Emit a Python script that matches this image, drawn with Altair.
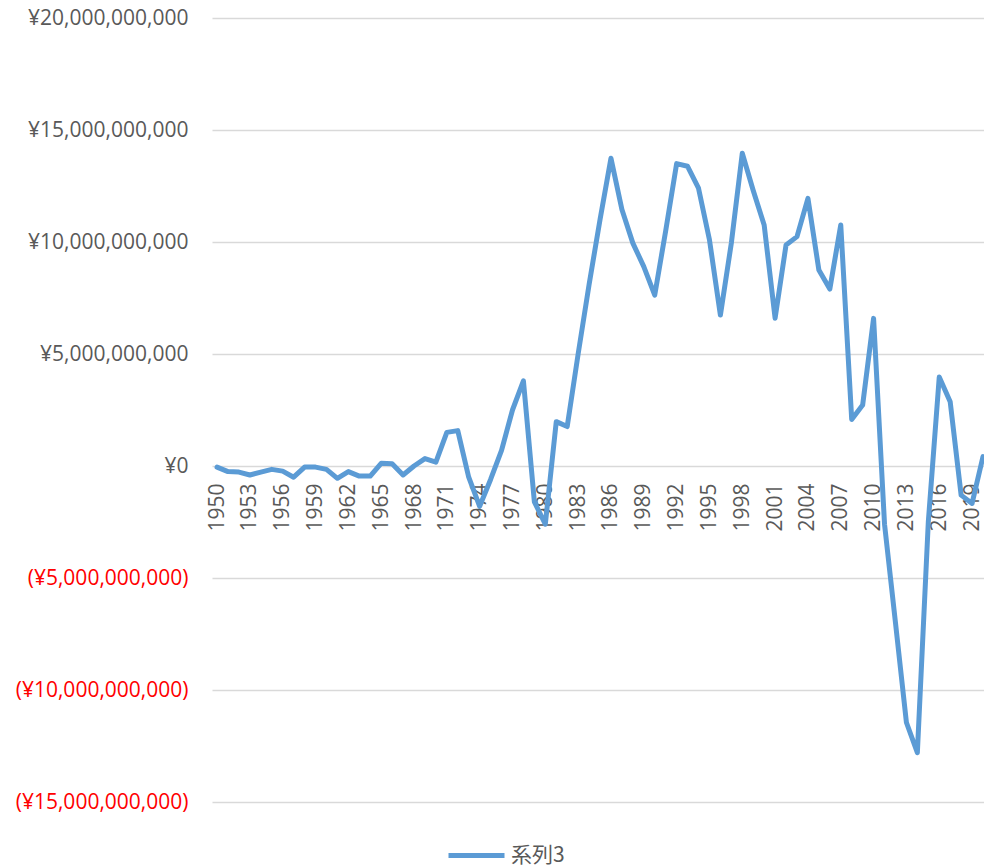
import altair as alt
import pandas as pd

# Annual balance, 1950-2020 (yen)
years = list(range(1950, 2021))
values_bn = [
    -0.05, -0.25, -0.27, -0.40, -0.27, -0.15, -0.23, -0.50, -0.05, -0.05,
    -0.15, -0.55, -0.25, -0.45, -0.45, 0.12, 0.10, -0.40, 0.00, 0.33,
    0.17, 1.50, 1.58, -0.50, -1.80, -0.60, 0.70, 2.50, 3.80, -1.60,
    -2.60, 1.98, 1.76, 5.00, 8.10, 11.00, 13.74, 11.45, 9.95, 8.90,
    7.63, 10.50, 13.50, 13.38, 12.40, 10.10, 6.74, 9.95, 13.96, 12.30,
    10.76, 6.60, 9.87, 10.24, 11.95, 8.75, 7.90, 10.76, 2.08, 2.72,
    6.59, -2.60, -7.00, -11.45, -12.80, -2.50, 3.97, 2.87, -1.30, -1.67,
    0.42,
]
series_name = "系列3"
year_ticks = list(range(1950, 2020, 3))
y_ticks = [-15e9, -10e9, -5e9, 0, 5e9, 10e9, 15e9, 20e9]

df = pd.DataFrame({
    "year": years,
    "value": [v * 1e9 for v in values_bn],
    "series": series_name,
})

GRAY = "#595959"
FONT = "Open Sans"

y_label = (
    "datum.value < 0 ? '(¥' + format(-datum.value, ',') + ')' "
    ": '¥' + format(datum.value, ',') + '\u00a0'"
)

chart = (
    alt.Chart(df)
    .mark_line(strokeWidth=5, strokeCap="round", strokeJoin="round", clip=True)
    .encode(
        x=alt.X(
            "year:Q",
            scale=alt.Scale(domain=[1949.54, 2020.09], nice=False, zero=False),
            axis=alt.Axis(
                values=year_ticks,
                title=None,
                format="d",
                domain=False,
                ticks=False,
                grid=False,
                labelAngle=270,
                labelAlign="right",
                labelBaseline="middle",
                labelPadding=17,
                labelFont=FONT,
                labelFontSize=21,
                labelColor=GRAY,
                labelOverlap=False,
                labelFlush=False,
                offset=-336,
            ),
        ),
        y=alt.Y(
            "value:Q",
            scale=alt.Scale(domain=[-15e9, 20e9], nice=False),
            axis=alt.Axis(
                values=y_ticks,
                title=None,
                domain=False,
                ticks=False,
                grid=True,
                gridColor="#d9d9d9",
                gridWidth=1.3,
                labelExpr=y_label,
                labelColor=alt.expr("datum.value < 0 ? '#ff0000' : '#595959'"),
                labelFont=FONT,
                labelFontSize=21,
                labelPadding=24,
                labelOverlap=False,
                labelFlush=False,
            ),
        ),
        color=alt.Color(
            "series:N",
            scale=alt.Scale(range=["#5B9BD5"]),
            legend=alt.Legend(
                title=None,
                orient="none",
                legendX=234,
                legendY=807,
                padding=0,
                symbolType="stroke",
                symbolSize=3136,
                symbolStrokeWidth=5,
                labelFont="Noto Sans CJK JP",
                labelFontSize=21,
                labelColor=GRAY,
                labelOffset=4,
            ),
        ),
    )
    .properties(
        width=772,
        height=784,
        autosize=alt.AutoSizeParams(type="none"),
        padding={"left": 212, "top": 18, "right": 0, "bottom": 65},
    )
    .configure(background="white", view=alt.ViewConfig(stroke=None))
)

chart.save("out.html", embed_options={"renderer": "svg", "actions": False})
